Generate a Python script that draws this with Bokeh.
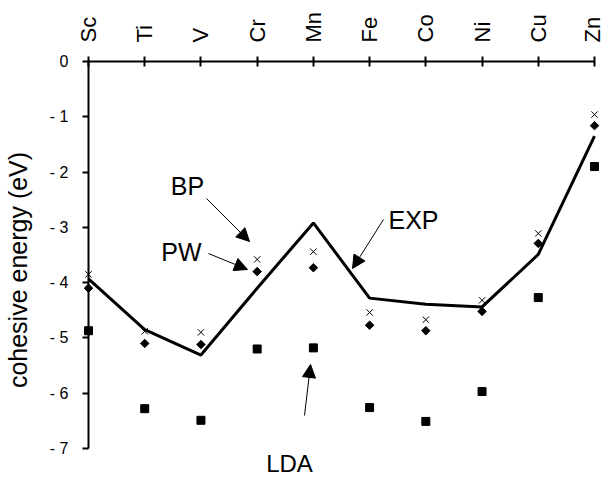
import math
from bokeh.plotting import figure
from bokeh.models import FixedTicker, Arrow, NormalHead, Label
from bokeh.embed import file_html
from bokeh.resources import INLINE

# ---- data ----
elements = ["Sc", "Ti", "V", "Cr", "Mn", "Fe", "Co", "Ni", "Cu", "Zn"]
exp_vals = [-3.93, -4.85, -5.31, -4.10, -2.92, -4.28, -4.39, -4.44, -3.49, -1.35]
bp_vals = [-3.85, -4.88, -4.90, -3.58, -3.44, -4.54, -4.67, -4.32, -3.11, -0.96]
pw_vals = [-4.10, -5.10, -5.12, -3.80, -3.73, -4.77, -4.87, -4.52, -3.29, -1.16]
lda_vals = [-4.87, -6.28, -6.49, -5.20, -5.18, -6.26, -6.51, -5.97, -4.27, -1.90]
y_ticks = [0, -1, -2, -3, -4, -5, -6, -7]
y_tick_labels = ["0", "- 1", "- 2", "- 3", "- 4", "- 5", "- 6", "- 7"]

xs = list(range(len(elements)))
FONT = "Liberation Sans"

# frame geometry: axis spans 387 px for 7 units; frame extends 30 px below -7
AXIS_PX = 387
EXTRA_PX = 30
ymin, ymax = min(y_ticks), max(y_ticks)
y_extra = EXTRA_PX * (ymax - ymin) / AXIS_PX

p = figure(frame_width=506, frame_height=AXIS_PX + EXTRA_PX,
           x_range=(0, len(elements) - 1), y_range=(ymin - y_extra, ymax),
           x_axis_location="above", output_backend="svg", toolbar_location=None,
           min_border_left=87, min_border_top=61, min_border_right=10,
           min_border_bottom=0)
p.grid.visible = False
p.outline_line_color = None
p.background_fill_color = "white"

xa = p.xaxis[0]
xa.ticker = FixedTicker(ticks=xs)
xa.major_label_overrides = {i: e for i, e in enumerate(elements)}
xa.major_label_orientation = "vertical"
xa.major_tick_in = 5
xa.major_tick_out = 5
xa.minor_tick_line_color = None
xa.axis_line_width = 2
xa.major_tick_line_width = 2
xa.major_label_text_font = FONT
xa.major_label_text_font_size = "22px"
xa.major_label_text_color = "black"
xa.major_label_standoff = 14

ya = p.yaxis[0]
ya.ticker = FixedTicker(ticks=y_ticks)
ya.bounds = (ymin, ymax)
ya.major_label_overrides = dict(zip(y_ticks, y_tick_labels))
ya.major_tick_in = 0
ya.major_tick_out = 6
ya.minor_tick_line_color = None
ya.axis_line_width = 2
ya.major_tick_line_width = 2
ya.major_label_text_font = FONT
ya.major_label_text_font_size = "16px"
ya.major_label_text_color = "black"
ya.major_label_standoff = 14
ya.axis_label = "cohesive energy (eV)"
ya.axis_label_text_font = FONT
ya.axis_label_text_font_size = "25px"
ya.axis_label_text_font_style = "normal"
ya.axis_label_text_color = "black"
ya.axis_label_standoff = 15

r1 = p.line(xs, exp_vals, line_width=3, line_color="black")
r2 = p.scatter(xs, bp_vals, marker="x", size=9, line_color="black", line_width=1)
r3 = p.scatter(xs, pw_vals, marker="square", angle=math.pi / 4, size=6,
               fill_color="black", line_color="black")
r4 = p.scatter(xs, lda_vals, marker="square", size=8,
               fill_color="black", line_color="black")
for r in (r1, r2, r3, r4):
    r.level = "overlay"

def arrow(x0, y0, x1, y1):
    p.add_layout(Arrow(end=NormalHead(size=13, fill_color="black", line_color="black"),
                       x_start=x0, y_start=y0, x_end=x1, y_end=y1,
                       line_color="black", line_width=1))

arrow(2.099, -2.478, 2.864, -3.256)   # BP
arrow(2.134, -3.473, 2.828, -3.762)   # PW
arrow(5.247, -2.858, 4.696, -3.744)   # EXP
arrow(3.842, -6.403, 3.949, -5.480)   # LDA

def label(x, y, t, size="25px"):
    p.add_layout(Label(x=x, y=y, text=t, text_align="center", text_baseline="middle",
                       text_font=FONT, text_font_size=size, text_color="black"))

label(1.761, -2.243, "BP")
label(1.654, -3.454, "PW")
label(5.781, -2.858, "EXP")
label(3.575, -7.280, "LDA", "24px")

open("out.html", "w").write(file_html(p, INLINE))
